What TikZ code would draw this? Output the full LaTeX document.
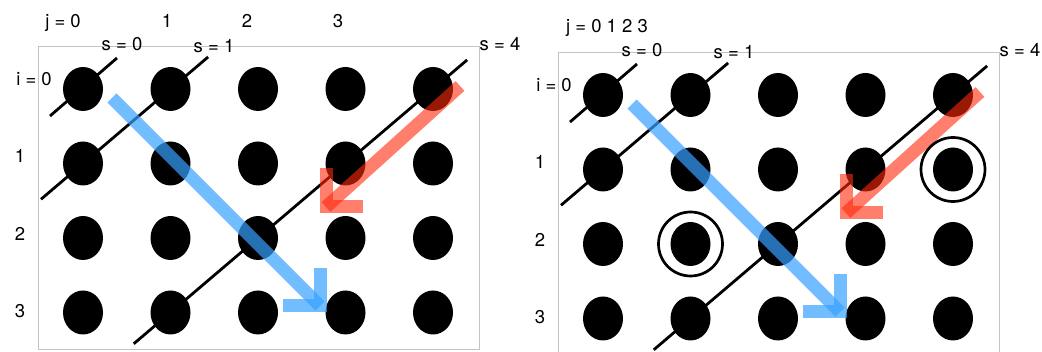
\documentclass[tikz,border=0pt]{standalone}
\usepackage{fontspec}
\setmainfont{TeX Gyre Heros}
\usepackage{tikz}
\usetikzlibrary{
  arrows.meta,
  shapes.geometric,
  positioning,
  calc
}
\definecolor{gdFrame}{HTML}{C4C4C4}
\definecolor{gdBlue}{RGB}{55,162,255}
\definecolor{gdRed}{RGB}{255,40,10}
\tikzset{
  dot/.style={
    fill=black, ellipse, minimum width=40pt, minimum height=44pt, inner sep=0pt
  },
  ring/.style={draw, circle, line width=2.7pt, minimum size=64pt, inner sep=0pt},
  lbl/.style={font=\fontsize{18.5}{22}\selectfont, inner sep=0pt, anchor=base},
  frame/.style={draw=gdFrame, line width=1pt},
  diag/.style={line width=2.8pt, black},
  bluepath/.style={line width=13pt, draw=gdBlue, draw opacity=0.7, line join=miter},
  redpath/.style={line width=13pt, draw=gdRed, draw opacity=0.6, line join=miter}
}

\begin{document}
\begin{tikzpicture}[x=1pt, y=-1pt]
  \fill[white] (0,0) rectangle (1042,352);
  \clip (0,0) rectangle (1042,352);
  \foreach \p/\dx/\dy in {L/0/0, R/520/6}{
    \begin{scope}[shift={(\dx,\dy)}]
      \draw[frame] (38,47) rectangle (479,350);
      % grid of points
      \foreach \i in {0,...,3}
        \foreach \j in {0,...,4}
          \node[dot] (\p-\i-\j) at ({83+87.5*\j},{89+74.5*\i}) {};
      % anti-diagonals
      \draw[diag] ($(\p-0-0)+(34,-31)$) -- ($(\p-0-0)+(-33,27)$);
      \draw[diag] ($(\p-0-1)!-0.43!(\p-1-0)$) -- ($(\p-1-0)!-0.48!(\p-0-1)$);
      \draw[diag] ($(\p-0-4)!-0.13!(\p-3-1)$) -- ($(\p-3-1)!-0.14!(\p-0-4)$);
      % labels
      \node[lbl] (\p-i0) at (34,86) {i = 0};
      \node[lbl] (\p-i1) at (20,163) {1};
      \node[lbl] (\p-i2) at (20,241) {2};
      \node[lbl] (\p-i3) at (20,318) {3};
      \node[lbl] (\p-s0) at (122,51) {s = 0};
      \node[lbl] (\p-s1) at (214,53) {s = 1};
      \node[lbl] (\p-s4) at (500,51) {s = 4};
      % sweep arrows
      \coordinate (\p-bs) at (112,98);
      \coordinate (\p-bt) at (320,306);
      \draw[bluepath] (\p-bs) -- (\p-bt);
      \draw[bluepath] ([yshift=38pt]\p-bt) -- (\p-bt) -- ([xshift=-37pt]\p-bt);
      \coordinate (\p-rs) at (460,86);
      \coordinate (\p-rt) at (326,207);
      \draw[redpath] (\p-rs) -- (\p-rt);
      \draw[redpath] ([yshift=39pt]\p-rt) -- (\p-rt) -- ([xshift=37pt]\p-rt);
    \end{scope}
  }
  % column labels
  \node[lbl] (L-j0) at (63,28) {j = 0};
  \node[lbl] (L-j1) at (167,28) {1};
  \node[lbl] (L-j2) at (247,28) {2};
  \node[lbl] (L-j3) at (338,28) {3};
  \node[lbl] (R-j) at (607,33) {j = 0 1 2 3};
  % marked points
  \node[ring] (R-ring-a) at (R-1-4) {};
  \node[ring] (R-ring-b) at (R-2-1) {};
\end{tikzpicture}
\end{document}
